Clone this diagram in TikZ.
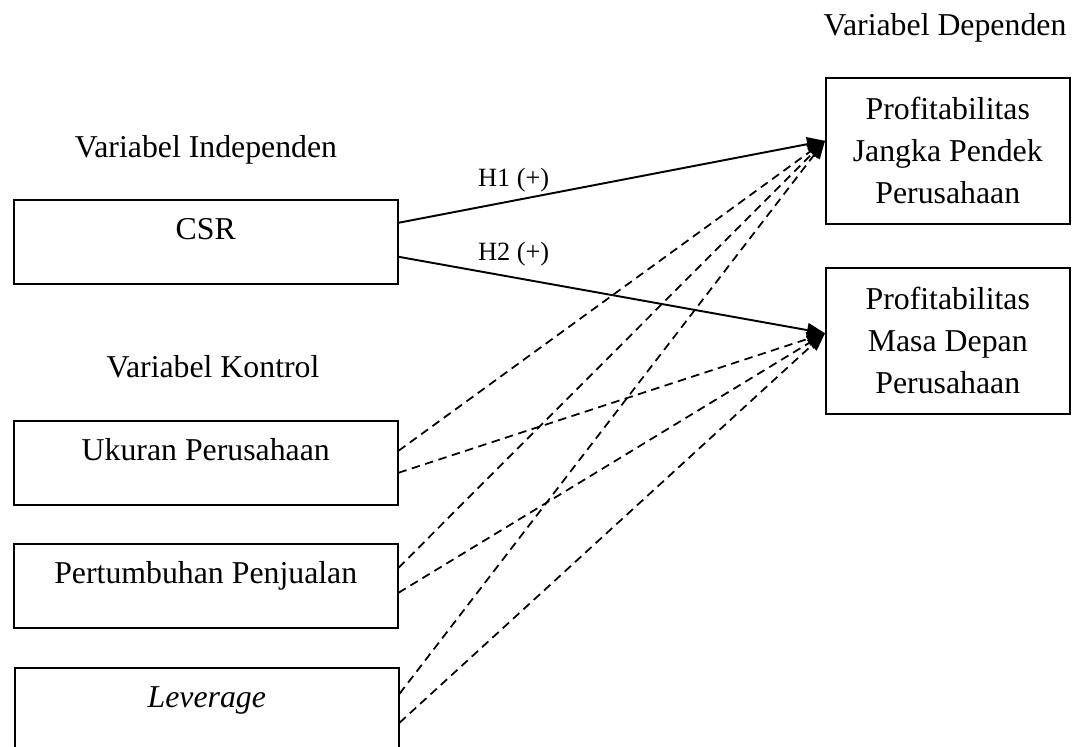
\documentclass[tikz,border=0pt]{standalone}
\usepackage{fontspec}
\setmainfont{Liberation Serif}
\usetikzlibrary{arrows.meta}
\tikzset{
  varbox/.style={draw, line width=0.9pt, anchor=north west, minimum width=7.68cm,
    inner xsep=0pt, inner ysep=0pt, text height=0.8cm, text depth=0.88cm},
  depbox/.style={draw, line width=0.9pt, anchor=north west, minimum width=4.88cm,
    minimum height=2.92cm, align=center},
  heading/.style={anchor=base},
  hypo/.style={line width=1.1pt, -{Triangle[length=0.36cm,width=0.28cm]}},
  ctrl/.style={line width=1pt, dash pattern=on 0.17cm off 0.11cm,
    -{Triangle[length=0.36cm,width=0.28cm]}},
  hlabel/.style={anchor=base, inner sep=0pt, font=\fontsize{15}{18}\selectfont}
}

\begin{document}
\begin{tikzpicture}[x=0.02cm, y=-0.02cm, font=\fontsize{18.1}{24}\selectfont]
		\useasboundingbox (0,0) rectangle (1080,747);
		% headings
		\node[heading] (hdep) at (945,35) {Variabel Dependen};
		\node[heading] (hind) at (206,157) {Variabel Independen};
		\node[heading] (hkon) at (213,377) {Variabel Kontrol};
		% variables
		\node[varbox] (csr) at (13,199) {CSR};
		\node[varbox] (size) at (13,420) {Ukuran Perusahaan};
		\node[varbox] (growth) at (13,543) {Pertumbuhan Penjualan};
		\node[varbox] (lev) at (14,667) {\textit{Leverage}};
		\node[depbox] (short) at (825,77) {Profitabilitas\\Jangka Pendek\\Perusahaan};
		\node[depbox] (future) at (825,267) {Profitabilitas\\Masa Depan\\Perusahaan};
		\coordinate (st) at ([yshift=0.2cm]short.west);
		\coordinate (ft) at ([yshift=0.15cm]future.west);
		% hypotheses
		\draw[hypo] ([yshift=0.38cm]csr.east) -- node[hlabel, pos=0.27, yshift=0.28cm] (h1) {H1 (+)} (st);
		\draw[hypo] ([yshift=-0.3cm]csr.east) -- node[hlabel, pos=0.27, yshift=0.33cm] (h2) {H2 (+)} (ft);
		% control variables
		\foreach \n/\a/\b in {size/0.24/0.2, growth/0.36/0.14, lev/0.32/0.26} {
			\draw[ctrl] ([yshift=\a cm]\n.east) -- (st);
			\draw[ctrl] ([yshift=-\b cm]\n.east) -- (ft);
		}
\end{tikzpicture}
\end{document}
